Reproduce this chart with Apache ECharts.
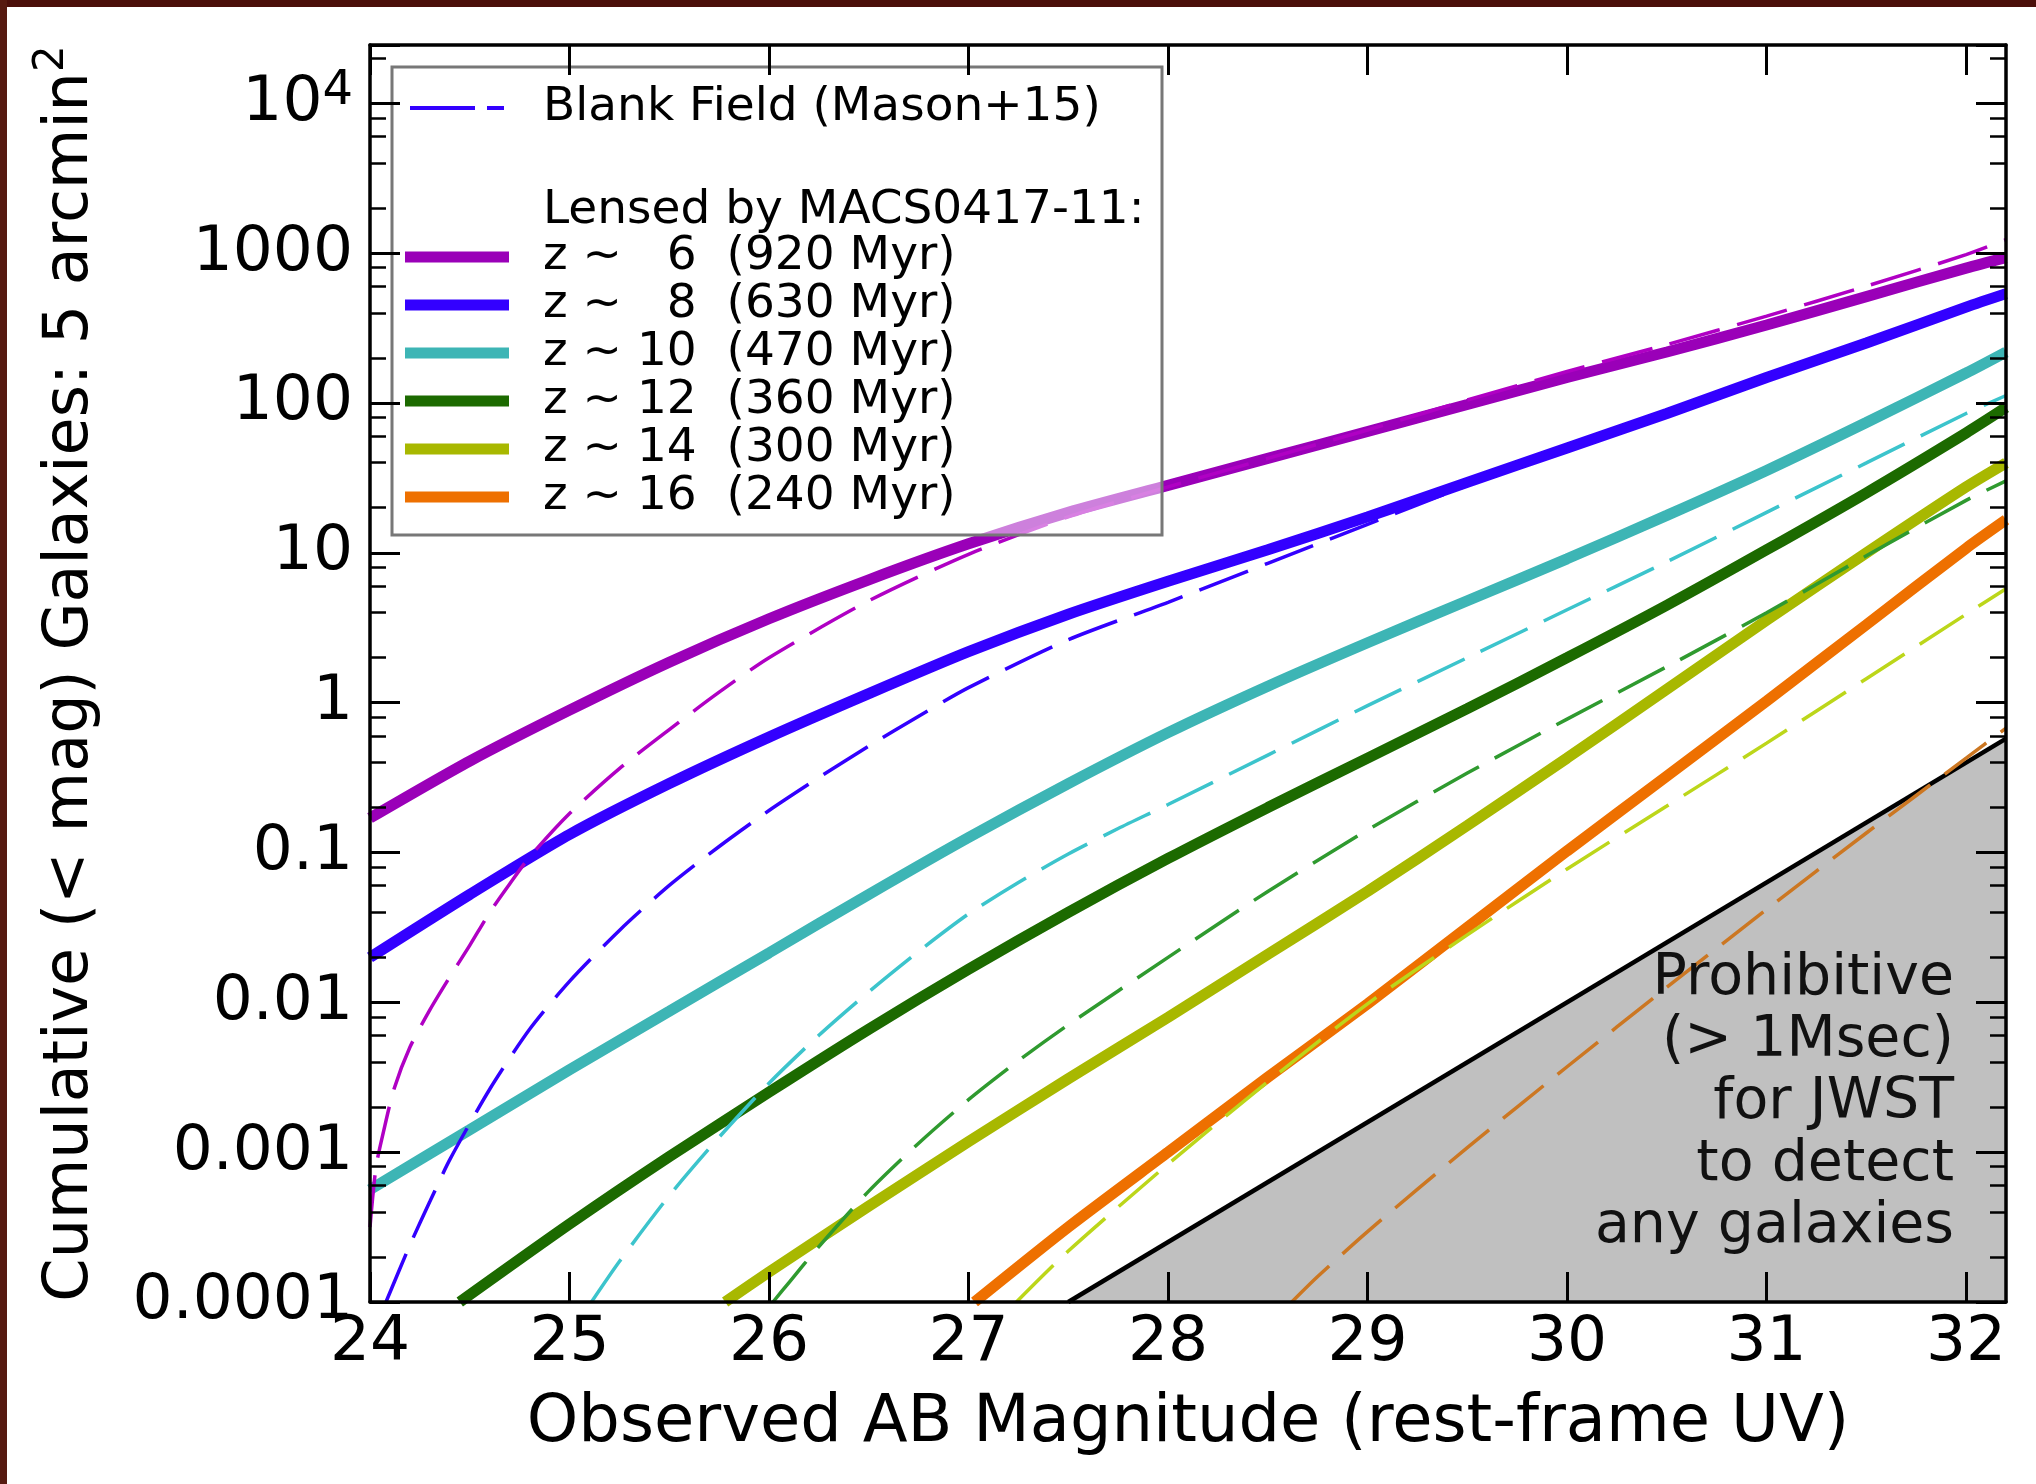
<!DOCTYPE html>
<html>
<head>
<meta charset="utf-8">
<script src="https://cdn.jsdelivr.net/npm/echarts@6/dist/echarts.min.js"></script>
<style>
html,body{margin:0;padding:0;background:#fff;}
#chart{position:absolute;left:0;top:0;width:2036px;height:1484px;}
#bt{position:absolute;left:0;top:0;width:2036px;height:7px;background:#4b0f0a;}
#bl{position:absolute;left:0;top:0;width:7px;height:1484px;background:#561a10;}
</style>
</head>
<body>
<div id="chart"></div><div id="bt"></div><div id="bl"></div>
<script>
// ---------- data (magnitude, log10 of cumulative count) ----------
const magTicks = [24, 25, 26, 27, 28, 29, 30, 31, 32];
const yTickExponents = [-4, -3, -2, -1, 0, 1, 2, 3, 4];
const yTickLabels = ['0.0001', '0.001', '0.01', '0.1', '1', '10', '100', '1000', '{b|10}{s|4}'];
const yMinorTicks = [2e-4, 4e-4, 6e-4, 8e-4, 2e-3, 4e-3, 6e-3, 8e-3, 2e-2, 4e-2, 6e-2, 8e-2,
  0.2, 0.4, 0.6, 0.8, 2, 4, 6, 8, 20, 40, 60, 80, 200, 400, 600, 800, 2000, 4000, 6000, 8000, 20000];

const lensedNames = ['z ~   6  (920 Myr)', 'z ~   8  (630 Myr)', 'z ~ 10  (470 Myr)',
  'z ~ 12  (360 Myr)', 'z ~ 14  (300 Myr)', 'z ~ 16  (240 Myr)'];
const blankNames = ['Blank Field z~6', 'Blank Field (Mason+15)', 'Blank Field z~10',
  'Blank Field z~12', 'Blank Field z~14', 'Blank Field z~16'];

const z6Lensed = [[24.0,-0.77],[24.5,-0.39],[25.0,-0.05],[25.5,0.27],[26.0,0.56],[26.5,0.82],[27.0,1.06],[27.5,1.27],[28.0,1.45],[28.5,1.63],[29.0,1.81],[29.5,1.99],[30.0,2.17],[30.5,2.34],[31.0,2.52],[31.5,2.71],[32.0,2.90],[32.2,2.97]];
const z6Blank = [[24.0,-3.5],[24.03,-3.1],[24.07,-2.85],[24.12,-2.58],[24.2,-2.3],[24.3,-2.05],[24.4,-1.83],[24.5,-1.62],[24.6,-1.40],[24.7,-1.21],[24.8,-1.03],[25.0,-0.74],[25.25,-0.44],[25.5,-0.18],[25.75,0.07],[26.0,0.30],[26.5,0.68],[27.0,0.99],[27.5,1.24],[28.0,1.44],[28.5,1.63],[29.0,1.82],[29.5,2.02],[30.0,2.21],[30.5,2.39],[31.0,2.58],[31.5,2.78],[32.0,2.99],[32.2,3.09]];
const z8Lensed = [[24.0,-1.70],[24.5,-1.28],[25.0,-0.88],[25.5,-0.54],[26.0,-0.23],[26.5,0.06],[27.0,0.34],[27.5,0.59],[28.0,0.81],[28.5,1.02],[29.0,1.24],[29.5,1.47],[30.0,1.70],[30.5,1.93],[31.0,2.17],[31.5,2.40],[32.0,2.64],[32.2,2.73]];
const z8Blank = [[24.08,-4.0],[24.2,-3.62],[24.3,-3.33],[24.4,-3.05],[24.6,-2.58],[24.8,-2.18],[25.0,-1.86],[25.25,-1.52],[25.5,-1.22],[25.75,-0.96],[26.0,-0.72],[26.25,-0.50],[26.5,-0.29],[26.75,-0.09],[27.0,0.10],[27.5,0.42],[28.0,0.67],[28.5,0.93],[29.0,1.19],[29.5,1.45],[30.0,1.70],[30.5,1.94],[31.0,2.18],[31.5,2.42],[32.0,2.66],[32.2,2.75]];
const z10Lensed = [[24.0,-3.25],[24.5,-2.85],[25.0,-2.45],[25.5,-2.06],[26.0,-1.67],[26.5,-1.28],[27.0,-0.90],[27.5,-0.54],[28.0,-0.20],[28.5,0.11],[29.0,0.40],[29.5,0.68],[30.0,0.96],[30.5,1.25],[31.0,1.55],[31.5,1.87],[32.0,2.20],[32.2,2.34]];
const z10Blank = [[25.11,-4.0],[25.25,-3.73],[25.5,-3.29],[25.75,-2.90],[26.0,-2.54],[26.25,-2.22],[26.5,-1.93],[26.75,-1.66],[27.0,-1.41],[27.25,-1.20],[27.5,-1.01],[27.75,-0.84],[28.0,-0.68],[28.5,-0.35],[29.0,-0.02],[29.5,0.30],[30.0,0.62],[30.5,0.94],[31.0,1.27],[31.5,1.60],[32.0,1.93],[32.2,2.05]];
const z12Lensed = [[24.45,-4.0],[25.0,-3.48],[25.5,-3.03],[26.0,-2.60],[26.5,-2.18],[27.0,-1.78],[27.5,-1.40],[28.0,-1.04],[28.5,-0.70],[29.0,-0.37],[29.5,-0.04],[30.0,0.30],[30.5,0.65],[31.0,1.02],[31.5,1.40],[32.0,1.80],[32.2,1.97]];
const z12Blank = [[26.02,-4.0],[26.1,-3.87],[26.25,-3.63],[26.5,-3.26],[26.75,-2.94],[27.0,-2.65],[27.25,-2.39],[27.5,-2.15],[28.0,-1.70],[28.5,-1.26],[29.0,-0.85],[29.5,-0.47],[30.0,-0.11],[30.5,0.24],[31.0,0.60],[31.5,0.98],[32.0,1.35],[32.2,1.48]];
const z14Lensed = [[25.78,-4.0],[26.0,-3.80],[26.5,-3.36],[27.0,-2.93],[27.5,-2.51],[28.0,-2.10],[28.5,-1.68],[29.0,-1.26],[29.5,-0.82],[30.0,-0.37],[30.5,0.09],[31.0,0.55],[31.5,1.00],[32.0,1.44],[32.2,1.60]];
const z14Blank = [[27.24,-4.0],[27.5,-3.66],[28.0,-3.08],[28.5,-2.53],[29.0,-2.01],[29.5,-1.55],[30.0,-1.11],[30.5,-0.69],[31.0,-0.27],[31.5,0.16],[32.0,0.59],[32.2,0.76]];
const z16Lensed = [[27.03,-4.0],[27.5,-3.50],[28.0,-3.0],[28.5,-2.50],[29.0,-2.01],[29.5,-1.50],[30.0,-0.99],[30.5,-0.49],[31.0,0.01],[31.5,0.52],[32.0,1.03],[32.2,1.22]];
const z16Blank = [[28.62,-4.0],[28.75,-3.83],[29.0,-3.53],[29.5,-2.97],[30.0,-2.43],[30.5,-1.90],[31.0,-1.38],[31.5,-0.87],[32.0,-0.37],[32.2,-0.17]];
const prohibitiveEdge = [[27.5,-4.0],[32.2,-0.24]];

const solidColors = ['#9a00b8', '#3300ff', '#3db5b5', '#1c6a00', '#a8b800', '#ee7000'];
const dashColors  = ['#b000c4', '#3300ff', '#3cc4cc', '#2f9a2f', '#bcd61a', '#cc7722'];

// ---------- chart ----------
const FONT = 'DejaVu Sans';
const Y_MIN = 1e-4, Y_MAX = 24500, X_MIN = 24, X_MAX = 32.2;
const toPts = arr => arr.map(p => [p[0], Math.pow(10, p[1])]);
const lensed = [z6Lensed, z8Lensed, z10Lensed, z12Lensed, z14Lensed, z16Lensed];
const blank = [z6Blank, z8Blank, z10Blank, z12Blank, z14Blank, z16Blank];

const series = [];
series.push({
  name: 'Prohibitive', type: 'line', data: toPts(prohibitiveEdge), symbol: 'none',
  lineStyle: {color: '#000', width: 4.5}, areaStyle: {color: '#c0c0c0', opacity: 1, origin: Y_MIN},
  z: 1, silent: true
});
lensed.forEach((d, i) => series.push({
  name: lensedNames[i], type: 'line', data: toPts(d), symbol: 'none', smooth: 0.25,
  color: solidColors[i], lineStyle: {color: solidColors[i], width: 11, cap: 'butt'}, z: 2
}));
blank.forEach((d, i) => series.push({
  name: blankNames[i], type: 'line', data: toPts(d), symbol: 'none', smooth: 0.25,
  color: dashColors[i], lineStyle: {color: dashColors[i], width: 3.5, type: [52, 18], cap: 'butt'}, z: 3
}));

const logTickStyle = {color: '#000', width: 3};
const minorLog = yMinorTicks.map(v => Math.log10(v));
const LOG_MIN = Math.log10(Y_MIN), LOG_MAX = Math.log10(Y_MAX);

const option = {
  animation: false,
  backgroundColor: '#fff',
  textStyle: {fontFamily: FONT},
  grid: {left: 370, top: 45, right: 30, bottom: 182, containLabel: false},
  xAxis: [
    {
      type: 'value', min: X_MIN, max: X_MAX, position: 'bottom', z: 5,
      axisLine: {show: true, onZero: false, lineStyle: {color: '#000', width: 3.5}},
      axisTick: {show: true, inside: true, length: 30, customValues: magTicks, lineStyle: logTickStyle},
      axisLabel: {show: true, customValues: magTicks, fontSize: 63, fontFamily: FONT, color: '#000', margin: 6, lineHeight: 72},
      splitLine: {show: false},
      name: 'Observed AB Magnitude (rest-frame UV)', nameLocation: 'middle', nameGap: 83,
      nameTextStyle: {fontSize: 65.5, fontFamily: FONT, color: '#000', lineHeight: 78}
    },
    {
      type: 'value', min: X_MIN, max: X_MAX, position: 'top', z: 5,
      axisLine: {show: true, onZero: false, lineStyle: {color: '#000', width: 3.5}},
      axisTick: {show: true, inside: true, length: 30, customValues: magTicks, lineStyle: logTickStyle},
      axisLabel: {show: false}, splitLine: {show: false}
    }
  ],
  yAxis: [
    {
      type: 'log', logBase: 10, min: Y_MIN, max: Y_MAX, position: 'left', z: 5,
      axisLine: {show: true, onZero: false, lineStyle: {color: '#000', width: 3.5}},
      axisTick: {show: true, inside: true, length: 30, lineStyle: logTickStyle},
      axisLabel: {
        show: true, fontSize: 63, fontFamily: FONT, color: '#000', margin: 17,
        formatter: function (v) {
          const k = Math.round(Math.log10(v));
          if (Math.abs(Math.log10(v) - k) > 1e-6) return '';
          const idx = yTickExponents.indexOf(k);
          return idx < 0 ? '' : yTickLabels[idx];
        },
        rich: {
          b: {fontSize: 63, fontFamily: FONT, color: '#000', lineHeight: 72},
          s: {fontSize: 48, fontFamily: FONT, color: '#000', lineHeight: 30, verticalAlign: 'top'}
        }
      },
      splitLine: {show: false}, minorTick: {show: false},
      name: '{m|Cumulative (< mag) Galaxies: 5 arcmin}{s|2}', nameLocation: 'middle', nameGap: 259, nameRotate: 90,
      nameTextStyle: {
        fontSize: 62, fontFamily: FONT, color: '#000',
        rich: {
          m: {fontSize: 62, fontFamily: FONT, color: '#000', lineHeight: 80},
          s: {fontSize: 42, fontFamily: FONT, color: '#000', lineHeight: 36, verticalAlign: 'top'}
        }
      }
    },
    {
      type: 'log', logBase: 10, min: Y_MIN, max: Y_MAX, position: 'right', z: 5,
      axisLine: {show: true, onZero: false, lineStyle: {color: '#000', width: 3.5}},
      axisTick: {show: true, inside: true, length: 30, lineStyle: logTickStyle},
      axisLabel: {show: false}, splitLine: {show: false}
    },
    {
      type: 'value', min: LOG_MIN, max: LOG_MAX, position: 'left', z: 5,
      axisLine: {show: false}, splitLine: {show: false}, axisLabel: {show: false},
      axisTick: {show: true, inside: true, length: 16, customValues: minorLog, lineStyle: {color: '#000', width: 2.5}}
    },
    {
      type: 'value', min: LOG_MIN, max: LOG_MAX, position: 'right', z: 5,
      axisLine: {show: false}, splitLine: {show: false}, axisLabel: {show: false},
      axisTick: {show: true, inside: true, length: 16, customValues: minorLog, lineStyle: {color: '#000', width: 2.5}}
    }
  ],
  legend: [
    {
      data: [{name: 'Blank Field (Mason+15)', icon: 'path://M0,0H65V4H0Z M77,0H94V4H77Z'}],
      orient: 'vertical', left: 410, top: 84, padding: 0, itemGap: 0, itemWidth: 94, itemHeight: 4,
      selectedMode: false, z: 6,
      textStyle: {fontSize: 47, fontFamily: FONT, color: '#000', lineHeight: 48, padding: [0, 0, 0, 34]}
    },
    {
      data: lensedNames.map(n => ({name: n, icon: 'rect'})),
      orient: 'vertical', left: 405, top: 233, padding: 0, itemGap: 0, itemWidth: 104, itemHeight: 11,
      selectedMode: false, z: 6,
      textStyle: {fontSize: 47, fontFamily: FONT, color: '#000', lineHeight: 48, padding: [0, 0, 0, 29]}
    }
  ],
  graphic: [
    {type: 'rect', z: 4, shape: {x: 392, y: 67, width: 770, height: 468},
      style: {fill: 'rgba(255,255,255,0.5)', stroke: '#777', lineWidth: 3}},
    {type: 'text', z: 7, x: 543, y: 211,
      style: {text: 'Lensed by MACS0417-11:', font: '47px "DejaVu Sans"', fill: '#000', align: 'left', verticalAlign: 'middle'}},
    {type: 'text', z: 7, x: 1954, y: 948,
      style: {text: 'Prohibitive\n(> 1Msec)\nfor JWST\nto detect\nany galaxies', font: '57px "DejaVu Sans"',
        fill: '#111', align: 'right', verticalAlign: 'top', lineHeight: 62}}
  ],
  series: series
};

const chart = echarts.init(document.getElementById('chart'), null, {renderer: 'canvas'});
chart.setOption(option);
</script>
</body>
</html>
